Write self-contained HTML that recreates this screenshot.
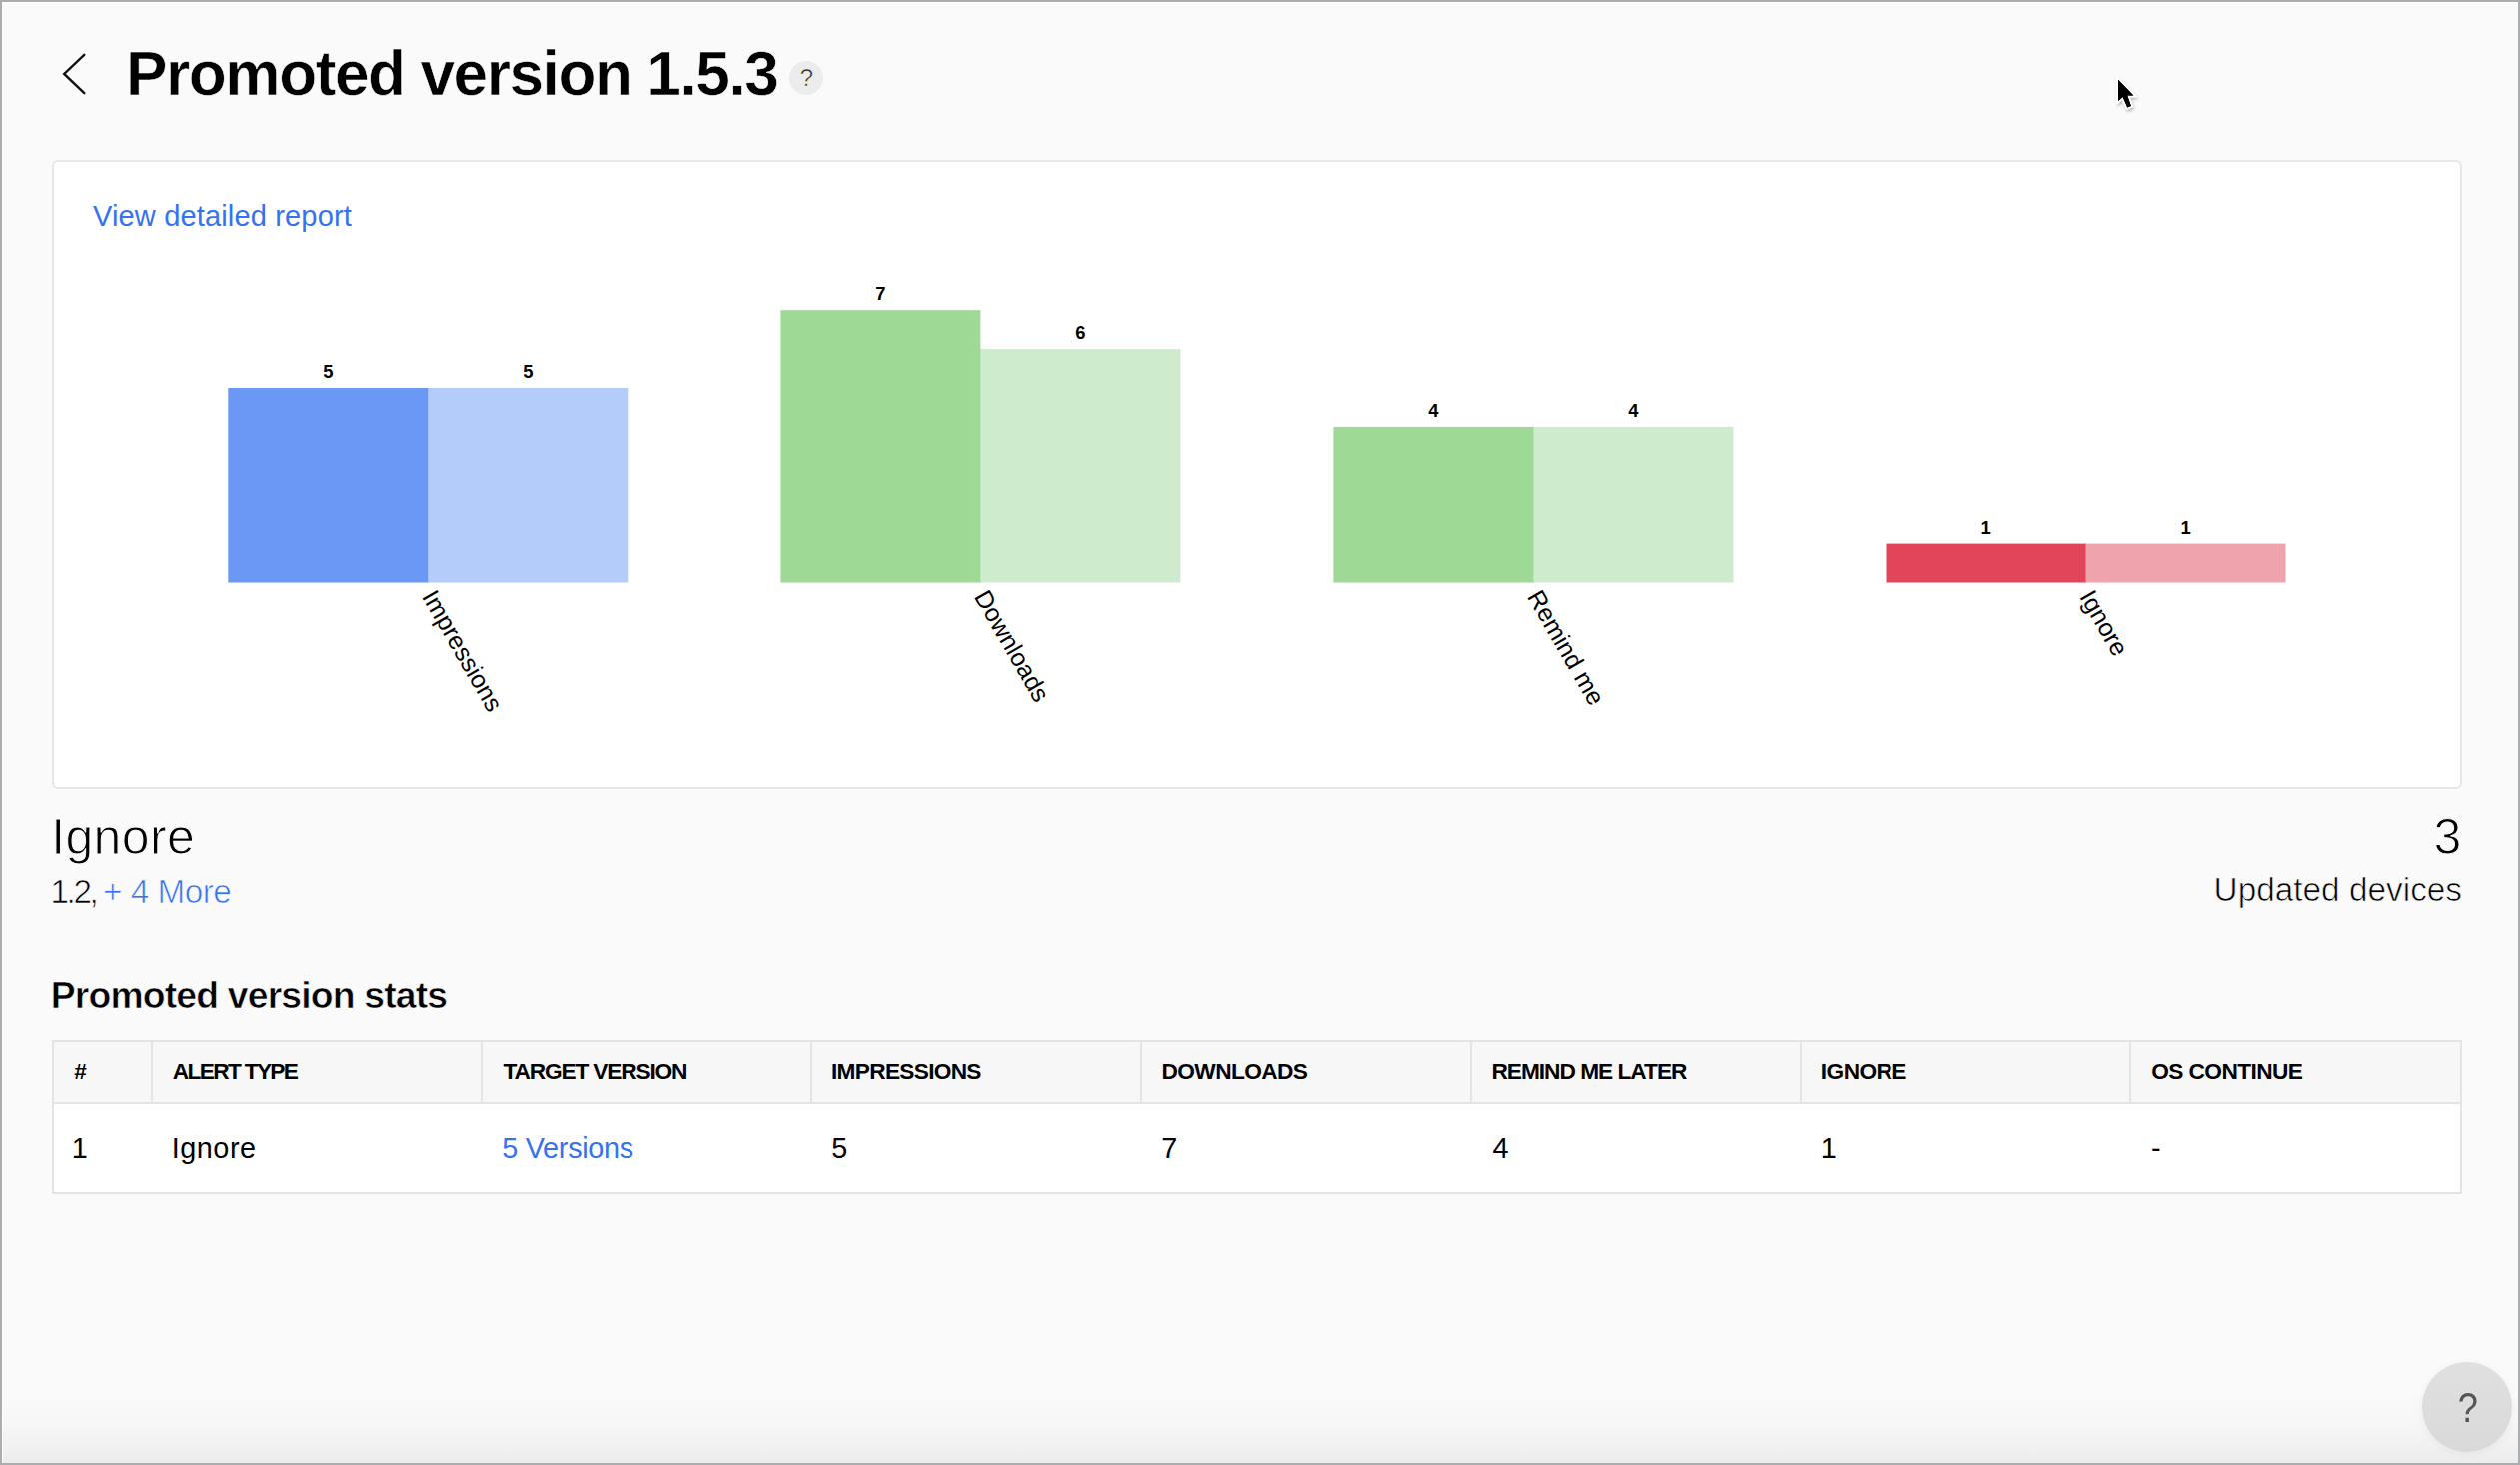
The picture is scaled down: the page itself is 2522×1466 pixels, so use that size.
<!DOCTYPE html>
<html lang="en">
<head>
<meta charset="utf-8">
<title>Promoted version 1.5.3</title>
<style>
html,body{margin:0;padding:0;background:#fafafa;}
body{width:2522px;height:1466px;overflow:hidden;background:#fafafa;position:relative;
 font-family:"Liberation Sans",Arial,Helvetica,sans-serif;color:#000;}
.t{position:absolute;margin:0;padding:0;line-height:1;white-space:nowrap;font-weight:400;}
a.t{text-decoration:none;}
.lt1{-webkit-text-stroke:1.1px #fafafa;}
.lt2{-webkit-text-stroke:0.7px #fafafa;}
.lt3{-webkit-text-stroke:0.6px #fafafa;}
.lt5{-webkit-text-stroke:0.5px #ececec;}
.frame{position:absolute;left:0;top:0;width:2522px;height:1466px;box-sizing:border-box;border:2px solid #aaaeb1;box-shadow:inset 1px 1px 0 0 rgba(255,255,255,0.9);pointer-events:none;z-index:50;}
.fade{position:absolute;left:2px;right:2px;bottom:2px;height:70px;background:linear-gradient(to bottom,rgba(0,0,0,0) 0%,rgba(0,0,0,0.01) 40%,rgba(0,0,0,0.056) 100%);z-index:1;}
.card{position:absolute;left:52px;top:160px;width:2412px;height:630px;box-sizing:border-box;border:2px solid #e7e7e7;border-radius:6px;background:#fff;}
.qm{position:absolute;left:790px;top:60.7px;width:34px;height:34px;border-radius:50%;background:#ececec;}
.help{position:absolute;left:2424px;top:1363px;width:90px;height:90px;border-radius:50%;background:linear-gradient(to bottom,#e0e0e0,#d9d9d9);box-shadow:0 2px 8px rgba(0,0,0,0.05);z-index:5;}
table.stats{position:absolute;left:52px;top:1041px;width:2412px;border-collapse:separate;border-spacing:0;border:2px solid #e4e4e4;box-sizing:border-box;table-layout:fixed;background:#fff;}
table.stats th,table.stats td{position:relative;text-align:left;}
table.stats th{height:60px;padding:0;background:#f7f7f7;border-bottom:2px solid #e4e4e4;border-right:2px solid #e4e4e4;}
table.stats th:last-child{border-right:0;}
table.stats td{height:88px;padding:0;}
svg{position:absolute;left:0;top:0;overflow:visible;}
</style>
</head>
<body>

<svg width="2522" height="1466" viewBox="0 0 2522 1466" style="z-index:2"><polyline points="84.3,54.8 64.2,73.9 84.3,93.2" fill="none" stroke="#111" stroke-width="2.4" stroke-linecap="round" stroke-linejoin="miter"/></svg>
<h1 class="t lt3" style="left:125.97px;top:43px;font-size:62.2px;font-weight:700;letter-spacing:-1.45px;">Promoted version 1.5.3</h1>
<div class="qm"></div>
<span class="t lt5" style="left:800.63px;top:66px;font-size:24px;color:#222;">?</span>
<div class="card"></div>
<a class="t" style="left:93.00px;top:202px;font-size:29.07px;color:#3572f0;letter-spacing:0.13px;">View detailed report</a>
<svg width="2522" height="1466" viewBox="0 0 2522 1466" style="z-index:3" font-family="'Liberation Sans',Arial,Helvetica,sans-serif">
<rect x="228.3" y="388.0" width="200" height="194.5" fill="#6b97f5"/>
<rect x="427.8" y="388.0" width="1" height="194.5" fill="#6b97f5"/>
<rect x="428.3" y="388.0" width="200" height="194.5" fill="#b4ccf9"/>
<text x="328.3" y="378.0" font-size="18.4" font-weight="700" text-anchor="middle" fill="#000">5</text>
<text x="528.3" y="378.0" font-size="18.4" font-weight="700" text-anchor="middle" fill="#000">5</text>
<text transform="translate(421.5,596.4) rotate(60)" font-size="24.9" letter-spacing="0.1" fill="#000">Impressions</text>
<rect x="781.4" y="310.2" width="200" height="272.3" fill="#9ed996"/>
<rect x="980.9" y="349.1" width="1" height="233.4" fill="#9ed996"/>
<rect x="981.4" y="349.1" width="200" height="233.4" fill="#ceebcd"/>
<text x="881.4" y="300.2" font-size="18.4" font-weight="700" text-anchor="middle" fill="#000">7</text>
<text x="1081.4" y="339.1" font-size="18.4" font-weight="700" text-anchor="middle" fill="#000">6</text>
<text transform="translate(974.6,596.4) rotate(60)" font-size="24.9" letter-spacing="0.1" fill="#000">Downloads</text>
<rect x="1334.4" y="426.9" width="200" height="155.6" fill="#9ed996"/>
<rect x="1533.9" y="426.9" width="1" height="155.6" fill="#9ed996"/>
<rect x="1534.4" y="426.9" width="200" height="155.6" fill="#ceebcd"/>
<text x="1434.4" y="416.9" font-size="18.4" font-weight="700" text-anchor="middle" fill="#000">4</text>
<text x="1634.4" y="416.9" font-size="18.4" font-weight="700" text-anchor="middle" fill="#000">4</text>
<text transform="translate(1527.6,596.4) rotate(60)" font-size="24.9" letter-spacing="0.1" fill="#000">Remind me</text>
<rect x="1887.5" y="543.6" width="200" height="38.9" fill="#e0455a"/>
<rect x="2087.0" y="543.6" width="1" height="38.9" fill="#e0455a"/>
<rect x="2087.5" y="543.6" width="200" height="38.9" fill="#efa3ad"/>
<text x="1987.5" y="533.6" font-size="18.4" font-weight="700" text-anchor="middle" fill="#000">1</text>
<text x="2187.5" y="533.6" font-size="18.4" font-weight="700" text-anchor="middle" fill="#000">1</text>
<text transform="translate(2080.7,596.4) rotate(60)" font-size="24.9" letter-spacing="0.1" fill="#000">Ignore</text>
</svg>
<div class="t lt1" style="left:51.20px;top:813px;font-size:50px;letter-spacing:0.35px;">Ignore</div>
<span class="t lt2" style="left:50.47px;top:876px;font-size:33.3px;letter-spacing:-2.4px;">1.2,</span>
<a class="t lt2" style="left:103.07px;top:876px;font-size:33.3px;color:#3572f0;letter-spacing:-0.5px;">+ 4 More</a>
<div class="t lt1" style="left:2435.50px;top:813px;font-size:50px;">3</div>
<div class="t lt2" style="left:2215.57px;top:874px;font-size:33.3px;letter-spacing:0.03px;">Updated devices</div>
<h2 class="t lt3" style="left:50.76px;top:978px;font-size:37.3px;font-weight:700;letter-spacing:-0.82px;">Promoted version stats</h2>
<table class="stats"><colgroup><col style="width:99px"><col style="width:330px"><col style="width:330px"><col style="width:330px"><col style="width:330px"><col style="width:330px"><col style="width:330px"><col style="width:329px"></colgroup><thead><tr>
<th>
<span class="t" style="left:20.30px;top:18px;font-size:22.7px;font-weight:700;">#</span>
</th>
<th>
<span class="t" style="left:19.80px;top:18px;font-size:22.7px;font-weight:700;letter-spacing:-1.67px;">ALERT TYPE</span>
</th>
<th>
<span class="t" style="left:20.50px;top:18px;font-size:22.7px;font-weight:700;letter-spacing:-1.16px;">TARGET VERSION</span>
</th>
<th>
<span class="t" style="left:19.00px;top:18px;font-size:22.7px;font-weight:700;letter-spacing:-0.71px;">IMPRESSIONS</span>
</th>
<th>
<span class="t" style="left:19.50px;top:18px;font-size:22.7px;font-weight:700;letter-spacing:-0.6px;">DOWNLOADS</span>
</th>
<th>
<span class="t" style="left:19.40px;top:18px;font-size:22.7px;font-weight:700;letter-spacing:-1.0px;">REMIND ME LATER</span>
</th>
<th>
<span class="t" style="left:18.80px;top:18px;font-size:22.7px;font-weight:700;letter-spacing:-0.56px;">IGNORE</span>
</th>
<th>
<span class="t" style="left:20.30px;top:18px;font-size:22.7px;font-weight:700;letter-spacing:-0.6px;">OS CONTINUE</span>
</th>
</tr></thead><tbody><tr>
<td>
<span class="t" style="left:17.70px;top:30px;font-size:28.8px;">1</span>
</td>
<td>
<span class="t" style="left:18.70px;top:30px;font-size:28.8px;letter-spacing:0.55px;">Ignore</span>
</td>
<td>
<a class="t" style="left:19.30px;top:30px;font-size:28.8px;color:#3572f0;letter-spacing:-0.28px;">5 Versions</a>
</td>
<td>
<span class="t" style="left:19.30px;top:30px;font-size:28.8px;">5</span>
</td>
<td>
<span class="t" style="left:19.30px;top:30px;font-size:28.8px;">7</span>
</td>
<td>
<span class="t" style="left:20.50px;top:30px;font-size:28.8px;">4</span>
</td>
<td>
<span class="t" style="left:18.70px;top:30px;font-size:28.8px;">1</span>
</td>
<td>
<span class="t" style="left:20.10px;top:30px;font-size:28.8px;">-</span>
</td>
</tr></tbody></table>
<div class="help"></div>
<span class="t" style="left:2457.52px;top:1388px;font-size:42px;color:#555;z-index:6;transform:scaleX(0.86);transform-origin:50% 50%;">?</span>
<svg width="2522" height="1466" viewBox="0 0 2522 1466" style="z-index:60">
<defs><filter id="cs" x="-50%" y="-50%" width="200%" height="200%"><feGaussianBlur in="SourceAlpha" stdDeviation="1.6"/><feOffset dx="0.5" dy="2" result="b"/><feComponentTransfer><feFuncA type="linear" slope="0.28"/></feComponentTransfer><feMerge><feMergeNode/><feMergeNode in="SourceGraphic"/></feMerge></filter></defs>
<g filter="url(#cs)"><polygon points="2120,79.8 2120,101 2124.6,97 2129.2,107.6 2132.9,106.1 2129.2,95.6 2135.4,95.5" fill="#000" stroke="#fff" stroke-width="3.6" stroke-linejoin="miter" paint-order="stroke"/></g>
<polygon points="2120,79.8 2120,101 2124.6,97 2129.2,107.6 2132.9,106.1 2129.2,95.6 2135.4,95.5" fill="#000"/>
</svg>
<div class="fade"></div><div class="frame"></div>
</body>
</html>
